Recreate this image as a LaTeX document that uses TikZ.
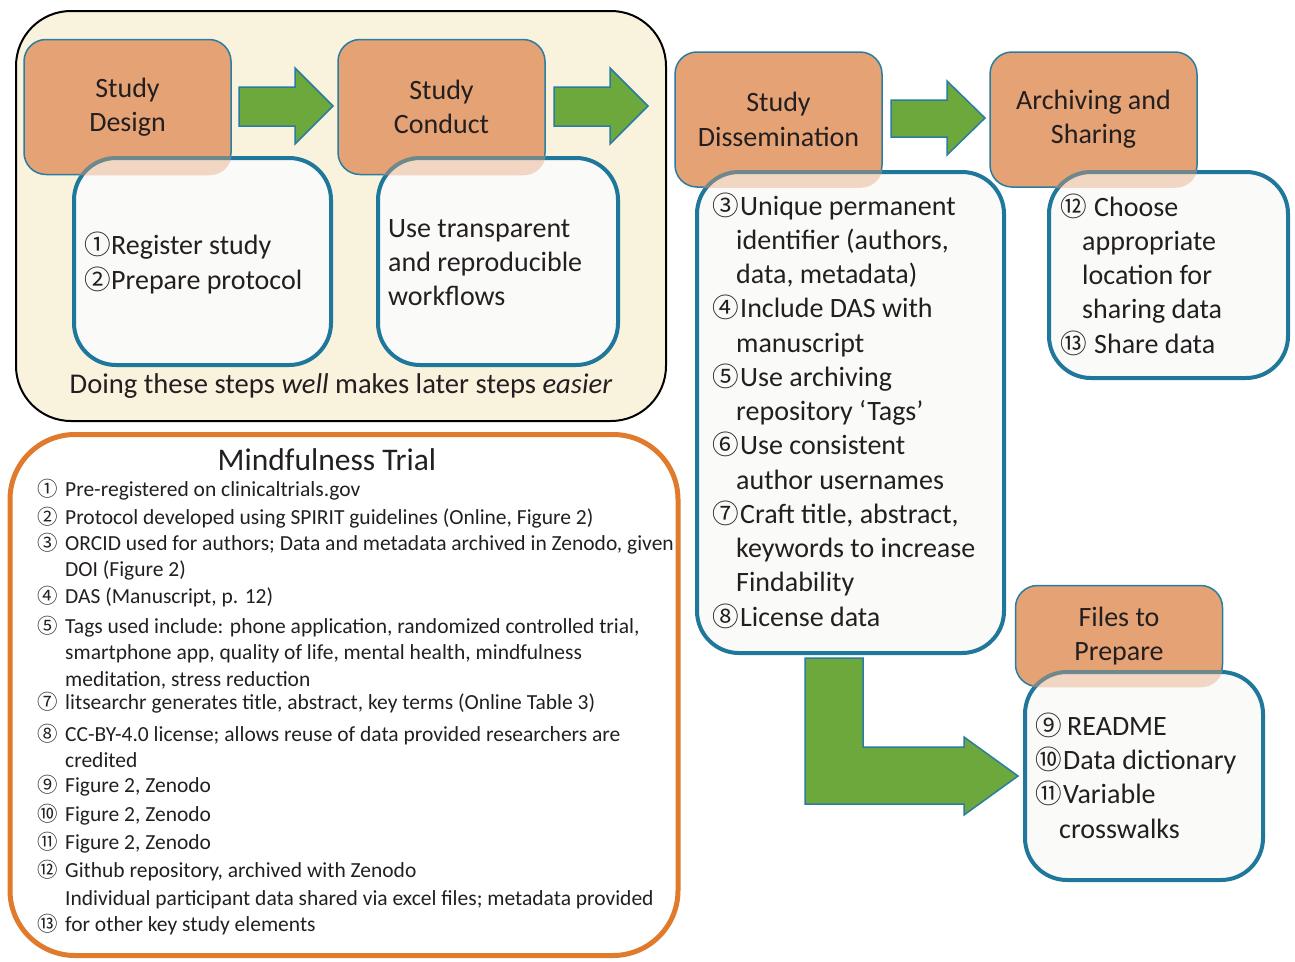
\documentclass[tikz,border=0pt]{standalone}
\usepackage{fontspec}
\setmainfont{Carlito}
\newfontfamily\circfont{Noto Sans CJK SC}[Scale=0.95]
\newcommand{\cnum}[1]{{\circfont #1}}
\newcommand{\itm}[2]{\makebox[#1][l]{\cnum{#2}}}
\definecolor{tanfill}{RGB}{249,242,221}
\definecolor{stageorange}{RGB}{229,162,117}
\definecolor{stageblue}{RGB}{41,125,160}
\definecolor{boxblue}{RGB}{31,120,155}
\definecolor{boxwhite}{RGB}{250,250,249}
\definecolor{arrowgreen}{RGB}{108,168,60}
\definecolor{trialorange}{RGB}{224,122,45}
\definecolor{inktext}{RGB}{35,31,32}
\tikzset{stage/.style={draw=stageblue, line width=1.5pt, fill=stageorange, rounded corners=22pt,
  minimum width=207pt, minimum height=135pt, align=center, text=inktext,
  font=\fontsize{28}{34.25}\selectfont}}
\tikzset{infobox/.style={draw=boxblue, line width=4pt, fill=boxwhite, rounded corners=42pt}}
\tikzset{tint/.style={stageorange, opacity=.4, rounded corners=22pt}}
% base = baseline of the last line
\tikzset{infotext/.style={anchor=base west, align=left, inner sep=0pt, text=inktext,
  font=\fontsize{28}{34.25}\selectfont}}
\tikzset{trialtext/.style={anchor=base west, inner sep=0pt, text=inktext,
  font=\fontsize{21.5}{26}\selectfont}}
\tikzset{blockarrow/.style={draw=stageblue, line width=1.5pt, fill=arrowgreen, line join=miter}}

\begin{document}
\begin{tikzpicture}[x=1pt, y=-1pt]
        \useasboundingbox (0,0) rectangle (1295,961);

        % frames
        \node[draw=black, line width=2pt, fill=tanfill, rounded corners=55pt, minimum width=650pt,
          minimum height=410pt] (early) at (341,216) {};
        \node[draw=trialorange, line width=5pt, rounded corners=65pt, minimum width=668pt,
          minimum height=521pt] (trial) at (344,695) {};

        % stages
        \node[stage] (design) at (127.5,107) {Study\\Design};
        \node[stage] (conduct) at (441.5,107) {Study\\Conduct};
        \node[stage] (dissem) at (778.5,119.5) {Study\\Dissemination};
        \node[stage] (archive) at (1093.5,119.5) {Archiving and\\Sharing};
        \node[stage, minimum height=101pt] (files) at (1119,636) {Files to\\Prepare};

        \node[infobox, minimum width=257pt, minimum height=207pt] (box1) at (202.5,261.5) {};
        \node[infobox, minimum width=240pt, minimum height=207pt] (box2) at (498,261.5) {};
        \node[infobox, minimum width=307pt, minimum height=481pt] (box3) at (850.5,412.5) {};
        \node[infobox, minimum width=239pt, minimum height=206pt] (box4) at (1168.5,275) {};
        \node[infobox, minimum width=238pt, minimum height=208pt] (box5) at (1144,776) {};

        % overlap tint
        \begin{scope}
          \clip[rounded corners=42pt] (box1.south west) rectangle (box1.north east);
          \fill[tint] (design.south west) rectangle (design.north east);
        \end{scope}
        \begin{scope}
          \clip[rounded corners=42pt] (box2.south west) rectangle (box2.north east);
          \fill[tint] (conduct.south west) rectangle (conduct.north east);
        \end{scope}
        \begin{scope}
          \clip[rounded corners=42pt] (box3.south west) rectangle (box3.north east);
          \fill[tint] (dissem.south west) rectangle (dissem.north east);
        \end{scope}
        \begin{scope}
          \clip[rounded corners=42pt] (box4.south west) rectangle (box4.north east);
          \fill[tint] (archive.south west) rectangle (archive.north east);
        \end{scope}
        \begin{scope}
          \clip[rounded corners=42pt] (box5.south west) rectangle (box5.north east);
          \fill[tint] (files.south west) rectangle (files.north east);
        \end{scope}

        % block arrows
        \draw[blockarrow] (239,87) -- (295,87) -- (295,68) -- (333,106) -- (295,144) -- (295,126) -- (239,126) -- cycle;
        \draw[blockarrow] (554,87) -- (610,87) -- (610,68) -- (648,106) -- (610,144) -- (610,126) -- (554,126) -- cycle;
        \draw[blockarrow] (891,100) -- (947,100) -- (947,81) -- (985,118) -- (947,155) -- (947,137) -- (891,137) -- cycle;
        \draw[blockarrow] (805,658) -- (863,658) -- (863,747) -- (964,747) -- (964,737) -- (1018,776)
          -- (964,815) -- (964,804) -- (805,804) -- cycle;

        % box texts
        \node[infotext] (txt1) at (84,289) {\itm{27pt}{①}Register study\\\itm{27pt}{②}Prepare protocol};
        \node[infotext] (txt2) at (388,305.5) {Use transparent\\and reproducible\\workflows};
        \node[infotext] (txt3) at (712,626) {\itm{28pt}{③}Unique permanent\\
          \hspace*{24pt}identifier (authors,\\
          \hspace*{24pt}data, metadata)\\
          \itm{28pt}{④}Include DAS with\\
          \hspace*{24pt}manuscript\\
          \itm{28pt}{⑤}Use archiving\\
          \hspace*{24pt}repository ‘Tags’\\
          \itm{28pt}{⑥}Use consistent\\
          \hspace*{24pt}author usernames\\
          \itm{28pt}{⑦}Craft title, abstract,\\
          \hspace*{24pt}keywords to increase\\
          \hspace*{24pt}Findability\\
          \itm{28pt}{⑧}License data};
        \node[infotext] (txt4) at (1060,353) {\itm{34pt}{⑫}Choose\\
          \hspace*{22pt}appropriate\\
          \hspace*{22pt}location for\\
          \hspace*{22pt}sharing data\\
          \itm{34pt}{⑬}Share data};
        \node[infotext] (txt5) at (1035,838) {\itm{32pt}{⑨}README\\
          \itm{28pt}{⑩}Data dictionary\\
          \itm{28pt}{⑪}Variable\\
          \hspace*{24pt}crosswalks};
        \node[anchor=base, inner sep=0pt, text=inktext, font=\fontsize{28.6}{34}\selectfont] (motto) at (341,393)
          {Doing these steps \textit{well} makes later steps \textit{easier}};

        % mindfulness trial
        \node[anchor=base, inner sep=0pt, text=inktext, font=\fontsize{31.5}{36}\selectfont] (trialtitle) at (327,470)
          {Mindfulness Trial};
        \node[trialtext] (m1) at (37,496) {\itm{28pt}{①}Pre-registered on clinicaltrials.gov};
        \node[trialtext] (m2) at (37,524) {\itm{28pt}{②}Protocol developed using SPIRIT guidelines (Online, Figure 2)};
        \node[trialtext] (m3) at (37,550) {\itm{28pt}{③}ORCID used for authors; Data and metadata archived in Zenodo, given};
        \node[trialtext] (m3b) at (65,576) {DOI (Figure 2)};
        \node[trialtext] (m4) at (37,603) {\itm{28pt}{④}DAS (Manuscript, p. 12)};
        \node[trialtext] (m5) at (37,633) {\itm{28pt}{⑤}Tags used include: phone application, randomized controlled trial,};
        \node[trialtext] (m5b) at (65,659) {smartphone app, quality of life, mental health, mindfulness};
        \node[trialtext] (m5c) at (65,686) {meditation, stress reduction};
        \node[trialtext] (m7) at (37,709) {\itm{28pt}{⑦}litsearchr generates title, abstract, key terms (Online Table 3)};
        \node[trialtext] (m8) at (37,741) {\itm{28pt}{⑧}CC-BY-4.0 license; allows reuse of data provided researchers are};
        \node[trialtext] (m8b) at (65,767) {credited};
        \node[trialtext] (m9) at (37,792) {\itm{28pt}{⑨}Figure 2, Zenodo};
        \node[trialtext] (m10) at (37,821) {\itm{28pt}{⑩}Figure 2, Zenodo};
        \node[trialtext] (m11) at (37,849) {\itm{28pt}{⑪}Figure 2, Zenodo};
        \node[trialtext] (m12) at (37,877) {\itm{28pt}{⑫}Github repository, archived with Zenodo};
        \node[trialtext] (m12b) at (65,905) {Individual participant data shared via excel files; metadata provided};
        \node[trialtext] (m13) at (37,931) {\itm{28pt}{⑬}for other key study elements};

\end{tikzpicture}
\end{document}
